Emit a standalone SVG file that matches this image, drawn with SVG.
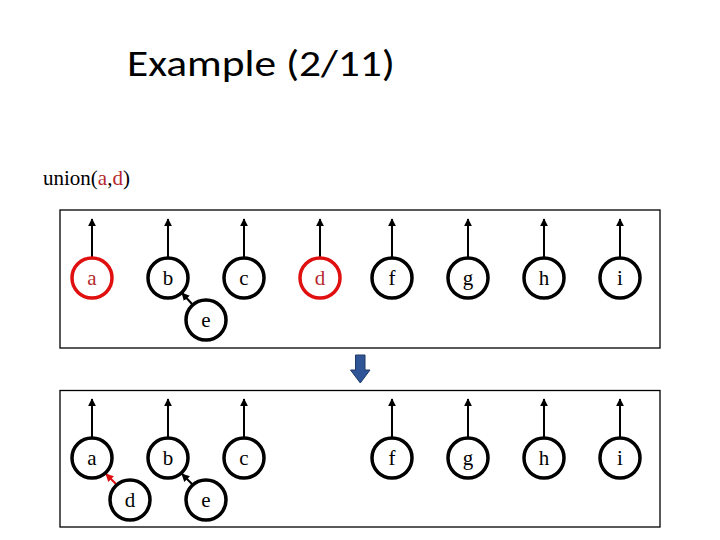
<svg xmlns="http://www.w3.org/2000/svg" width="720" height="540" viewBox="0 0 720 540">
<style>
.box{fill:none;stroke:#000;stroke-width:1.3}
.n{fill:#fff;stroke:#000;stroke-width:3.5}
.r{stroke:#e01010}
.t{font-family:"Liberation Serif","Times New Roman",serif;font-size:21px;text-anchor:middle;fill:#000}
.rt{fill:#b5272d}
.c{stroke:#000;stroke-width:2;fill:none}
.cr{stroke:#e01010;stroke-width:2;fill:none}
</style>
<defs>
<marker id="ah" viewBox="0 0 10 10" refX="9" refY="5" markerWidth="4" markerHeight="4" markerUnits="strokeWidth" orient="auto"><path d="M0,0 L10,5 L0,10 z" fill="#000"/></marker>
<marker id="ahr" viewBox="0 0 10 10" refX="9" refY="5" markerWidth="4" markerHeight="4" markerUnits="strokeWidth" orient="auto"><path d="M0,0 L10,5 L0,10 z" fill="#e01010"/></marker>
</defs>
<rect width="720" height="540" fill="#fff"/>
<text x="261" y="76" font-family="Calibri,'Liberation Sans',Arial,sans-serif" font-size="36" text-anchor="middle" textLength="268" lengthAdjust="spacingAndGlyphs">Example (2/11)</text>
<text x="43" y="185" font-family="'Liberation Serif','Times New Roman',serif" font-size="21">union(<tspan fill="#b5272d">a</tspan>,<tspan fill="#b5272d">d</tspan>)</text>
<rect class="box" x="60" y="210" width="600" height="138"/>
<rect class="box" x="60" y="390.5" width="600" height="136.5"/>
<g id="connectors">
<line class="c" x1="92" y1="257" x2="92" y2="219" marker-end="url(#ah)"/>
<line class="c" x1="168" y1="257" x2="168" y2="219" marker-end="url(#ah)"/>
<line class="c" x1="244" y1="257" x2="244" y2="219" marker-end="url(#ah)"/>
<line class="c" x1="320" y1="257" x2="320" y2="219" marker-end="url(#ah)"/>
<line class="c" x1="392" y1="257" x2="392" y2="219" marker-end="url(#ah)"/>
<line class="c" x1="468" y1="257" x2="468" y2="219" marker-end="url(#ah)"/>
<line class="c" x1="544" y1="257" x2="544" y2="219" marker-end="url(#ah)"/>
<line class="c" x1="620" y1="257" x2="620" y2="219" marker-end="url(#ah)"/>
<line class="c" x1="192" y1="304" x2="182" y2="293" marker-end="url(#ah)"/>
<line class="c" x1="92" y1="437" x2="92" y2="399" marker-end="url(#ah)"/>
<line class="c" x1="168" y1="437" x2="168" y2="399" marker-end="url(#ah)"/>
<line class="c" x1="244" y1="437" x2="244" y2="399" marker-end="url(#ah)"/>
<line class="c" x1="392" y1="437" x2="392" y2="399" marker-end="url(#ah)"/>
<line class="c" x1="468" y1="437" x2="468" y2="399" marker-end="url(#ah)"/>
<line class="c" x1="544" y1="437" x2="544" y2="399" marker-end="url(#ah)"/>
<line class="c" x1="620" y1="437" x2="620" y2="399" marker-end="url(#ah)"/>
<line class="cr" x1="116" y1="484" x2="106" y2="474" marker-end="url(#ahr)"/>
<line class="c" x1="192" y1="484" x2="182" y2="474" marker-end="url(#ah)"/>
</g>
<g id="top-a"><circle class="n r" cx="92" cy="278" r="20"/><text class="t rt" x="92" y="285">a</text></g>
<g id="top-b"><circle class="n" cx="168" cy="278" r="20"/><text class="t" x="168" y="285">b</text></g>
<g id="top-c"><circle class="n" cx="244" cy="278" r="20"/><text class="t" x="244" y="285">c</text></g>
<g id="top-d"><circle class="n r" cx="320" cy="278" r="20"/><text class="t rt" x="320" y="285">d</text></g>
<g id="top-f"><circle class="n" cx="392" cy="278" r="20"/><text class="t" x="392" y="285">f</text></g>
<g id="top-g"><circle class="n" cx="468" cy="278" r="20"/><text class="t" x="468" y="285">g</text></g>
<g id="top-h"><circle class="n" cx="544" cy="278" r="20"/><text class="t" x="544" y="285">h</text></g>
<g id="top-i"><circle class="n" cx="620" cy="278" r="20"/><text class="t" x="620" y="285">i</text></g>
<g id="top-e"><circle class="n" cx="206" cy="320" r="20"/><text class="t" x="206" y="327">e</text></g>
<g id="arrow"><path d="M355.5,355 H365 V370 H370 L360.3,383 L350.5,370 H355.5 Z" fill="#2f5597" stroke="#1f3864" stroke-width="1"/></g>
<g id="bot-a"><circle class="n" cx="92" cy="458" r="20"/><text class="t" x="92" y="465">a</text></g>
<g id="bot-b"><circle class="n" cx="168" cy="458" r="20"/><text class="t" x="168" y="465">b</text></g>
<g id="bot-c"><circle class="n" cx="244" cy="458" r="20"/><text class="t" x="244" y="465">c</text></g>
<g id="bot-f"><circle class="n" cx="392" cy="458" r="20"/><text class="t" x="392" y="465">f</text></g>
<g id="bot-g"><circle class="n" cx="468" cy="458" r="20"/><text class="t" x="468" y="465">g</text></g>
<g id="bot-h"><circle class="n" cx="544" cy="458" r="20"/><text class="t" x="544" y="465">h</text></g>
<g id="bot-i"><circle class="n" cx="620" cy="458" r="20"/><text class="t" x="620" y="465">i</text></g>
<g id="bot-d"><circle class="n" cx="130" cy="500" r="20"/><text class="t" x="130" y="507">d</text></g>
<g id="bot-e"><circle class="n" cx="206" cy="500" r="20"/><text class="t" x="206" y="507">e</text></g>
</svg>
